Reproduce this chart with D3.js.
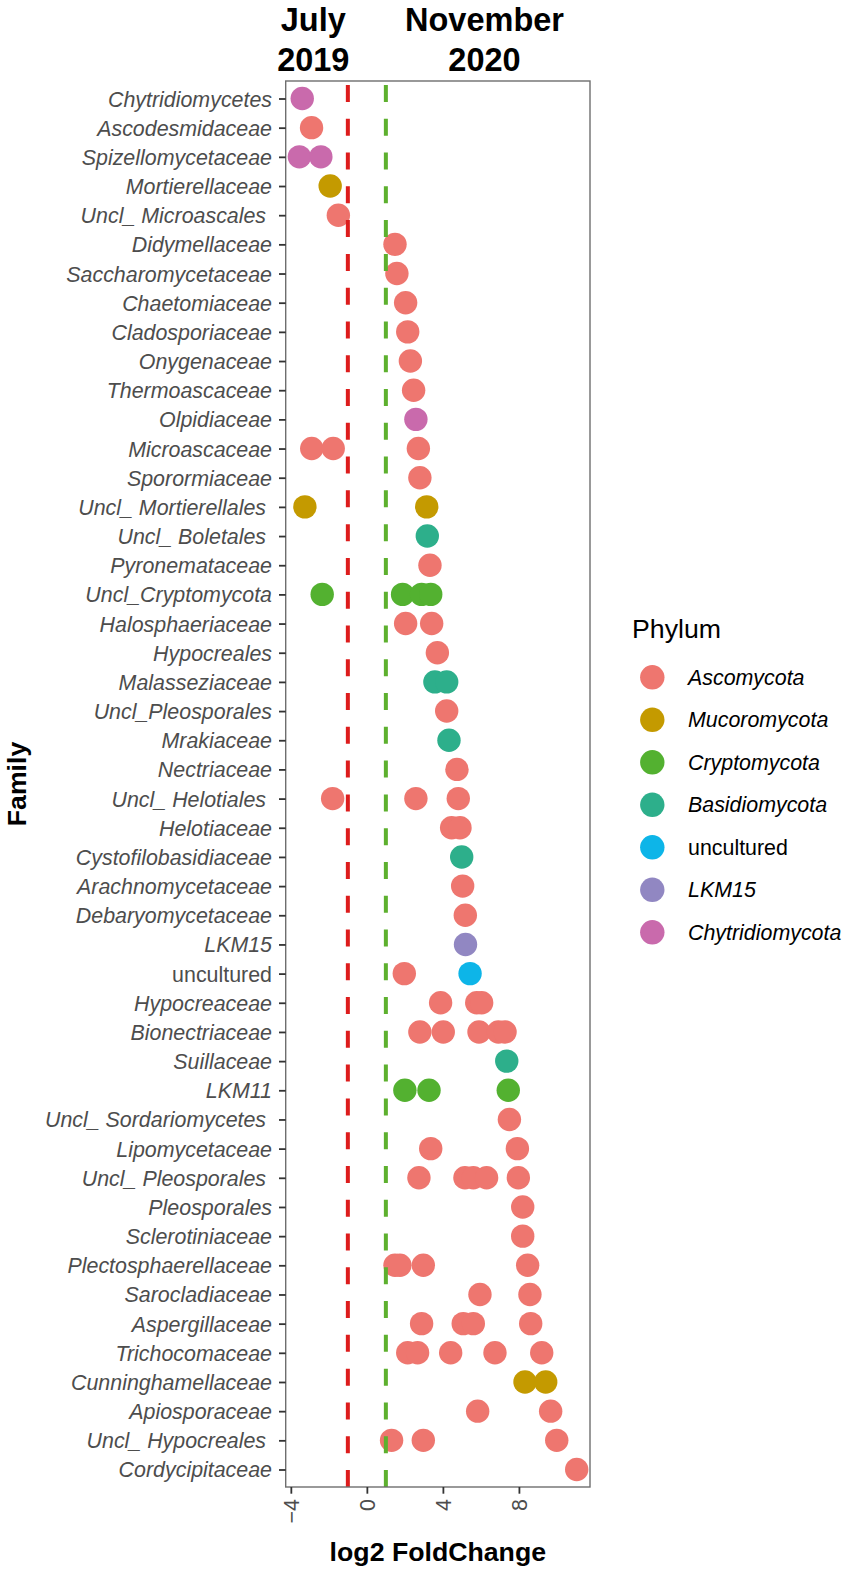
<!DOCTYPE html>
<html>
<head>
<meta charset="utf-8">
<script src="https://cdn.jsdelivr.net/npm/d3@7/dist/d3.min.js"></script>
<style>
  html, body { margin: 0; padding: 0; background: #fff; }
  svg { display: block; }
  text { font-family: "Liberation Sans", Arial, Helvetica, sans-serif; }
</style>
</head>
<body>
<div id="chart"></div>
<script>
// ---------------- DATA ----------------
const families = [
  "Chytridiomycetes", "Ascodesmidaceae", "Spizellomycetaceae", "Mortierellaceae",
  "Uncl_ Microascales ", "Didymellaceae", "Saccharomycetaceae", "Chaetomiaceae",
  "Cladosporiaceae", "Onygenaceae", "Thermoascaceae", "Olpidiaceae",
  "Microascaceae", "Sporormiaceae", "Uncl_ Mortierellales ", "Uncl_ Boletales ",
  "Pyronemataceae", "Uncl_Cryptomycota", "Halosphaeriaceae", "Hypocreales",
  "Malasseziaceae", "Uncl_Pleosporales", "Mrakiaceae", "Nectriaceae",
  "Uncl_ Helotiales ", "Helotiaceae", "Cystofilobasidiaceae", "Arachnomycetaceae",
  "Debaryomycetaceae", "LKM15", "uncultured", "Hypocreaceae",
  "Bionectriaceae", "Suillaceae", "LKM11", "Uncl_ Sordariomycetes ",
  "Lipomycetaceae", "Uncl_ Pleosporales ", "Pleosporales", "Sclerotiniaceae",
  "Plectosphaerellaceae", "Sarocladiaceae", "Aspergillaceae", "Trichocomaceae",
  "Cunninghamellaceae", "Apiosporaceae", "Uncl_ Hypocreales ", "Cordycipitaceae"
];

const phyla = ["Ascomycota", "Mucoromycota", "Cryptomycota", "Basidiomycota",
               "uncultured", "LKM15", "Chytridiomycota"];

// [family, log2 fold change]
const ascomycota = [
  ["Ascodesmidaceae", -2.91], ["Uncl_ Microascales ", -1.50],
  ["Didymellaceae", 1.48], ["Saccharomycetaceae", 1.58], ["Chaetomiaceae", 2.04],
  ["Cladosporiaceae", 2.15], ["Onygenaceae", 2.29], ["Thermoascaceae", 2.46],
  ["Microascaceae", -2.90], ["Microascaceae", -1.77], ["Microascaceae", 2.71],
  ["Sporormiaceae", 2.79], ["Pyronemataceae", 3.32],
  ["Halosphaeriaceae", 2.04], ["Halosphaeriaceae", 3.41], ["Hypocreales", 3.71],
  ["Uncl_Pleosporales", 4.20], ["Nectriaceae", 4.74],
  ["Uncl_ Helotiales ", -1.80], ["Uncl_ Helotiales ", 2.58], ["Uncl_ Helotiales ", 4.81],
  ["Helotiaceae", 4.46], ["Helotiaceae", 4.90], ["Arachnomycetaceae", 5.04],
  ["Debaryomycetaceae", 5.18], ["uncultured", 1.97],
  ["Hypocreaceae", 3.88], ["Hypocreaceae", 5.78], ["Hypocreaceae", 6.04],
  ["Bionectriaceae", 2.79], ["Bionectriaceae", 4.02], ["Bionectriaceae", 5.90],
  ["Bionectriaceae", 6.92], ["Bionectriaceae", 7.27],
  ["Uncl_ Sordariomycetes ", 7.50], ["Lipomycetaceae", 3.36], ["Lipomycetaceae", 7.92],
  ["Uncl_ Pleosporales ", 2.74], ["Uncl_ Pleosporales ", 5.16], ["Uncl_ Pleosporales ", 5.60],
  ["Uncl_ Pleosporales ", 6.30], ["Uncl_ Pleosporales ", 7.97],
  ["Pleosporales", 8.20], ["Sclerotiniaceae", 8.20],
  ["Plectosphaerellaceae", 1.48], ["Plectosphaerellaceae", 1.74],
  ["Plectosphaerellaceae", 2.97], ["Plectosphaerellaceae", 8.46],
  ["Sarocladiaceae", 5.95], ["Sarocladiaceae", 8.58],
  ["Aspergillaceae", 2.88], ["Aspergillaceae", 5.07], ["Aspergillaceae", 5.60], ["Aspergillaceae", 8.62],
  ["Trichocomaceae", 2.15], ["Trichocomaceae", 2.67], ["Trichocomaceae", 4.41],
  ["Trichocomaceae", 6.74], ["Trichocomaceae", 9.20],
  ["Apiosporaceae", 5.83], ["Apiosporaceae", 9.67],
  ["Uncl_ Hypocreales ", 1.30], ["Uncl_ Hypocreales ", 2.97], ["Uncl_ Hypocreales ", 9.99],
  ["Cordycipitaceae", 11.04]
];
const mucoromycota = [
  ["Mortierellaceae", -1.93], ["Uncl_ Mortierellales ", -3.26], ["Uncl_ Mortierellales ", 3.15],
  ["Cunninghamellaceae", 8.32], ["Cunninghamellaceae", 9.41]
];
const cryptomycota = [
  ["Uncl_Cryptomycota", -2.35], ["Uncl_Cryptomycota", 1.88], ["Uncl_Cryptomycota", 2.88],
  ["Uncl_Cryptomycota", 3.36], ["LKM11", 2.00], ["LKM11", 3.27], ["LKM11", 7.44]
];
const basidiomycota = [
  ["Uncl_ Boletales ", 3.18], ["Malasseziaceae", 3.58], ["Malasseziaceae", 4.20],
  ["Mrakiaceae", 4.32], ["Cystofilobasidiaceae", 4.99], ["Suillaceae", 7.36]
];
const unculturedPhylum = [["uncultured", 5.43]];
const lkm15 = [["LKM15", 5.19]];
const chytridiomycota = [
  ["Chytridiomycetes", -3.40], ["Spizellomycetaceae", -3.55], ["Spizellomycetaceae", -2.42],
  ["Olpidiaceae", 2.58]
];

const xTicks = [-4, 0, 4, 8];
const thresholds = [-1, 1];            // July 2019 | November 2020 cut-offs
const periodTitles = [["July", "2019"], ["November", "2020"]];

// ---------------- STYLE ----------------
const palette = ["#EE766F", "#C49A00", "#53B130", "#2DAF8B", "#0DB5E8", "#9187C2", "#C96AAC"];
const lineColors = ["#DD1C1C", "#5DB02E"];

const series = [ascomycota, mucoromycota, cryptomycota, basidiomycota,
                unculturedPhylum, lkm15, chytridiomycota];

const W = 851, H = 1576;
const panel = { left: 285.7, right: 590, top: 81, bottom: 1487 };
const axisFont = 21.4, titleFont = 26.7;

const svg = d3.select("#chart").append("svg")
  .attr("width", W).attr("height", H).attr("viewBox", `0 0 ${W} ${H}`);

const x = d3.scaleLinear().domain([-4.27, 11.74]).range([panel.left, panel.right]);
const y = d3.scalePoint().domain(families).range([panel.top, panel.bottom]).padding(0.6);
const color = d3.scaleOrdinal().domain(phyla).range(palette);

// panel background
svg.append("rect")
  .attr("x", panel.left).attr("y", panel.top)
  .attr("width", panel.right - panel.left).attr("height", panel.bottom - panel.top)
  .attr("fill", "#fff");

// points
const pts = [];
series.forEach((s, i) => s.forEach(d => pts.push({ family: d[0], value: d[1], phylum: phyla[i] })));
svg.append("g").selectAll("circle").data(pts).join("circle")
  .attr("cx", d => x(d.value))
  .attr("cy", d => y(d.family))
  .attr("r", 11.7)
  .attr("fill", d => color(d.phylum));

// threshold lines (drawn over points)
const dash = 17, period = 33.78;
svg.append("g").selectAll("line").data(thresholds).join("line")
  .attr("x1", d => x(d)).attr("x2", d => x(d))
  .attr("y1", panel.top).attr("y2", panel.bottom)
  .attr("stroke", (d, i) => lineColors[i])
  .attr("stroke-width", 4)
  .attr("stroke-dasharray", `${dash},${period - dash}`)
  .attr("stroke-dashoffset", period - 4);

// panel border
svg.append("rect")
  .attr("x", panel.left).attr("y", panel.top)
  .attr("width", panel.right - panel.left).attr("height", panel.bottom - panel.top)
  .attr("fill", "none").attr("stroke", "#6e6e6e").attr("stroke-width", 1.4);

// y axis
const yAxis = d3.axisLeft(y).tickSize(6.7).tickPadding(7);
const gy = svg.append("g").attr("transform", `translate(${panel.left},0)`).call(yAxis);
gy.select(".domain").remove();
gy.selectAll(".tick line").attr("stroke", "#333").attr("stroke-width", 1.8);
gy.selectAll(".tick text")
  .attr("fill", "#4D4D4D")
  .style("font-size", axisFont + "px")
  .style("font-style", d => d === "uncultured" ? "normal" : "italic")
  .style("white-space", "pre")
  .attr("dy", "0.35em");

// x axis
const xAxis = d3.axisBottom(x).tickValues(xTicks).tickSize(6.7).tickPadding(5)
  .tickFormat(d => d3.format("")(d).replace("-", "\u2212"));
const gx = svg.append("g").attr("transform", `translate(0,${panel.bottom})`).call(xAxis);
gx.select(".domain").remove();
gx.selectAll(".tick line").attr("stroke", "#333").attr("stroke-width", 1.8);
gx.selectAll(".tick text")
  .attr("fill", "#4D4D4D")
  .style("font-size", axisFont + "px")
  .attr("text-anchor", "end")
  .attr("transform", "rotate(-90)")
  .attr("x", -12).attr("y", 0).attr("dy", "0.35em");

// axis titles
svg.append("text")
  .attr("x", (panel.left + panel.right) / 2).attr("y", 1561)
  .attr("text-anchor", "middle")
  .style("font-size", titleFont + "px").style("font-weight", "bold")
  .text("log2 FoldChange");

svg.append("text")
  .attr("transform", `translate(26,${(panel.top + panel.bottom) / 2}) rotate(-90)`)
  .attr("text-anchor", "middle")
  .style("font-size", titleFont + "px").style("font-weight", "bold")
  .text("Family");

// period headers
const headerX = [313.3, 484.5];
periodTitles.forEach((lines, i) => {
  svg.append("text")
    .attr("x", headerX[i]).attr("y", 30.5)
    .attr("text-anchor", "middle")
    .style("font-size", "32.5px").style("font-weight", "bold")
    .text(lines[0]);
  svg.append("text")
    .attr("x", headerX[i]).attr("y", 71)
    .attr("text-anchor", "middle")
    .style("font-size", "32.5px").style("font-weight", "bold")
    .text(lines[1]);
});

// legend
const legend = svg.append("g");
legend.append("text")
  .attr("x", 632).attr("y", 638)
  .style("font-size", titleFont + "px")
  .text("Phylum");
const ly = d3.scalePoint().domain(phyla).range([677.3, 932.3]);
const items = legend.selectAll("g.item").data(phyla).join("g").attr("class", "item");
items.append("circle")
  .attr("cx", 652.3).attr("cy", d => ly(d)).attr("r", 12.2)
  .attr("fill", d => color(d));
items.append("text")
  .attr("x", 688).attr("y", d => ly(d)).attr("dy", "0.35em")
  .style("font-size", axisFont + "px")
  .style("font-style", d => d === "uncultured" ? "normal" : "italic")
  .attr("fill", "#000")
  .text(d => d);
</script>
</body>
</html>
